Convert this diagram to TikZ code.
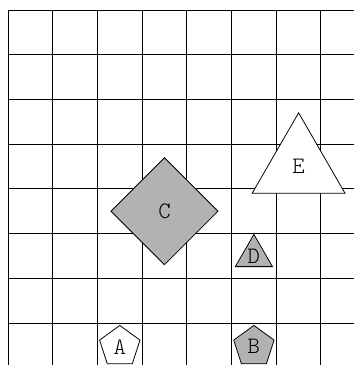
\documentclass[tikz,border=0pt]{standalone}
\usetikzlibrary{shapes.geometric}
\begin{document}
\begin{tikzpicture}[
  gridline/.style={line width=0.6pt, black},
  shp/.style={draw=black, line width=0.5pt, inner sep=0pt, font=\ttfamily\fontseries{l}\fontsize{15}{17}\selectfont},
  grayfill/.style={fill=black!30},
  whitefill/.style={fill=white},
  smallpent/.style={shp, regular polygon, regular polygon sides=5, minimum size=0.95cm},
  smalltri/.style={shp, regular polygon, regular polygon sides=3, minimum size=0.96cm},
  bigtri/.style={shp, regular polygon, regular polygon sides=3, minimum size=2.4cm},
  bigdiamond/.style={shp, diamond, aspect=1, minimum width=2.4cm, minimum height=2.4cm}
]
\useasboundingbox (-0.179,0.06) rectangle (7.74,8.224);
\draw[gridline] (0,0.06) grid (7.74,8);
\node[smallpent, whitefill] (A) at (2.5,0.47) {A};
\node[smallpent, grayfill] (B) at (5.5,0.47) {B};
\node[bigdiamond, grayfill] (C) at (3.5,3.5) {C};
\node[smalltri, grayfill] (D) at (5.5,2.5) {D};
\node[bigtri, whitefill] (E) at (6.5,4.5) {E};
\end{tikzpicture}
\end{document}
